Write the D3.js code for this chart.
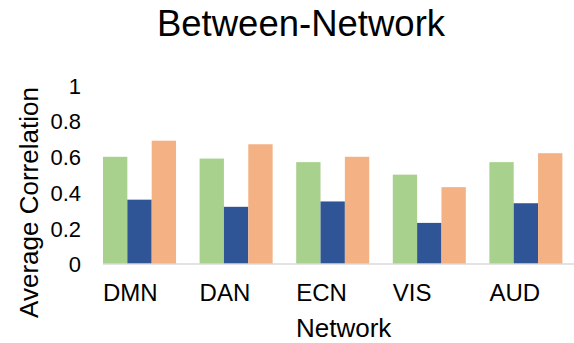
<!DOCTYPE html>
<html>
<head>
<meta charset="utf-8">
<script src="https://cdn.jsdelivr.net/npm/d3@7"></script>
<style>
  html, body { margin: 0; padding: 0; background: #fff; }
  svg { display: block; font-family: "Liberation Sans", Arial, sans-serif; }
</style>
</head>
<body>
<svg id="chart" width="574" height="343"></svg>
<script>
// Average between-network correlation for each network, three conditions
const networks = ["DMN", "DAN", "ECN", "VIS", "AUD"];
const seriesKeys = ["s1", "s2", "s3"];
const seriesColors = ["#a9d18e", "#2f5597", "#f4b183"];
const s1Values = [0.60, 0.59, 0.57, 0.50, 0.57];
const s2Values = [0.36, 0.32, 0.35, 0.23, 0.34];
const s3Values = [0.69, 0.67, 0.60, 0.43, 0.62];
const yTicks = [0, 0.2, 0.4, 0.6, 0.8, 1];
const yTickLabels = ["0", "0.2", "0.4", "0.6", "0.8", "1"];

const rows = networks.map((n, i) => ({
  network: n,
  values: [s1Values[i], s2Values[i], s3Values[i]]
}));

const svg = d3.select("#chart");

const x = d3.scaleBand()
  .domain(networks)
  .range([103, 562.4])
  .paddingInner(0.244)
  .paddingOuter(0)
  .align(0);

const xInner = d3.scaleBand()
  .domain(seriesKeys)
  .range([0, x.bandwidth()])
  .padding(0);

const y = d3.scaleLinear()
  .domain([0, 1])
  .range([264, 85.3]);

// Bars
const groups = svg.append("g")
  .selectAll("g")
  .data(rows)
  .join("g")
  .attr("transform", d => `translate(${x(d.network)},0)`);

groups.selectAll("rect")
  .data(d => d.values.map((v, k) => ({ key: seriesKeys[k], value: v, color: seriesColors[k] })))
  .join("rect")
  .attr("x", d => xInner(d.key))
  .attr("width", xInner.bandwidth())
  .attr("y", d => y(d.value))
  .attr("height", d => y(0) - y(d.value))
  .attr("fill", d => d.color);

// Category axis line
svg.append("line")
  .attr("x1", 103).attr("x2", 574)
  .attr("y1", y(0)).attr("y2", y(0))
  .attr("stroke", "#d9d9d9")
  .attr("stroke-width", 1.5);

// Category labels, left-aligned with each bar group
svg.append("g")
  .selectAll("text")
  .data(networks)
  .join("text")
  .attr("x", d => x(d))
  .attr("y", 300.5)
  .attr("font-size", 24)
  .attr("fill", "#000")
  .text(d => d);

// Value axis (labels only)
const yAxis = d3.axisLeft(y)
  .tickValues(yTicks)
  .tickFormat((d, i) => yTickLabels[i])
  .tickSize(0)
  .tickPadding(0);

const yg = svg.append("g")
  .attr("transform", "translate(81,0)")
  .call(yAxis);
yg.select(".domain").remove();
yg.selectAll("text")
  .attr("font-size", 22)
  .attr("font-family", "Liberation Sans, Arial, sans-serif")
  .attr("fill", "#000")
  .attr("dy", "0.36em");

// Title
svg.append("text")
  .attr("x", 301)
  .attr("y", 36)
  .attr("text-anchor", "middle")
  .attr("font-size", 36.5)
  .attr("fill", "#000")
  .text("Between-Network");

// Axis titles
svg.append("text")
  .attr("x", 296)
  .attr("y", 337)
  .attr("font-size", 26)
  .attr("fill", "#000")
  .text("Network");

svg.append("text")
  .attr("transform", "translate(38,202.5) rotate(-90)")
  .attr("text-anchor", "middle")
  .attr("font-size", 26)
  .attr("fill", "#000")
  .text("Average Correlation");
</script>
</body>
</html>
